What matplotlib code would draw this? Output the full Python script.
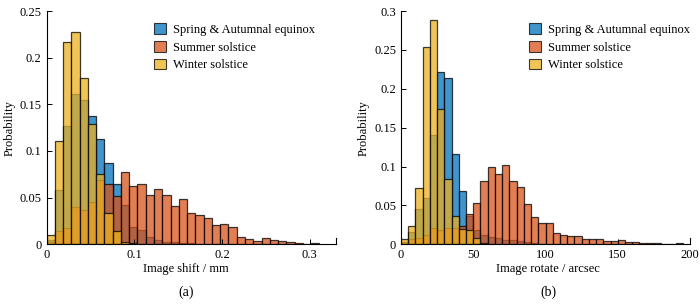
import numpy as np
import matplotlib
matplotlib.use("Agg")
import matplotlib.pyplot as plt
from matplotlib.patches import Patch
from matplotlib.ticker import FuncFormatter

# ---------------- data ----------------
series_names = ["Spring & Autumnal equinox", "Summer solstice", "Winter solstice"]

# panel (a): image shift / mm
shift_bin_width = 0.33 / 35
shift_spring = [0.005, 0.058, 0.127, 0.161, 0.155, 0.138, 0.113, 0.087, 0.065, 0.042,
                0.019, 0.015, 0.0075, 0.0046, 0.003, 0.002, 0.001, 0.001]
shift_summer = [0.003, 0.014, 0.018, 0.040, 0.037, 0.045, 0.069, 0.065, 0.052, 0.078,
                0.063, 0.065, 0.053, 0.059, 0.053, 0.041, 0.0486, 0.034, 0.0314, 0.0286,
                0.021, 0.0218, 0.019, 0.0079, 0.0054, 0.004, 0.007, 0.0043, 0.0032, 0.0029,
                0.0018, 0.0005, 0.0012]
shift_winter = [0.010, 0.111, 0.217, 0.228, 0.178, 0.129, 0.075, 0.034, 0.014, 0.003, 0.001]

# panel (b): image rotate / arcsec
rot_bin_width = 5.0
rot_spring = [0.002, 0.016, 0.046, 0.060, 0.141, 0.222, 0.214, 0.116, 0.068, 0.036,
              0.018, 0.012, 0.010, 0.008, 0.006, 0.005, 0.004, 0.003, 0.002, 0.001]
rot_summer = [0.003, 0.007, 0.008, 0.012, 0.021, 0.019, 0.021, 0.021, 0.024, 0.039,
              0.053, 0.082, 0.099, 0.091, 0.102, 0.081, 0.074, 0.052, 0.0356, 0.027,
              0.027, 0.014, 0.012, 0.0107, 0.0107, 0.0064, 0.0064, 0.0073, 0.0047, 0.0043,
              0.005, 0.0034, 0.003, 0.0017, 0.0017, 0.0015, 0.0009, 0.0009, 0.0015]
rot_winter = [0.0064, 0.024, 0.072, 0.254, 0.289, 0.174, 0.084, 0.037, 0.020, 0.019,
              0.008, 0.002]

shift_xticks = [0, 0.1, 0.2, 0.3]
shift_yticks = [0, 0.05, 0.1, 0.15, 0.2, 0.25]
rot_xticks = [0, 50, 100, 150, 200]
rot_yticks = [0, 0.05, 0.1, 0.15, 0.2, 0.25, 0.3]

# ---------------- style ----------------
colors = ["#0072BD", "#D95319", "#EDB120"]
alpha = 0.75
FONT = "Liberation Serif"
FS = 9
plt.rcParams["font.family"] = [FONT, "DejaVu Serif"]
plt.rcParams["font.size"] = FS

fig = plt.figure(figsize=(7.0, 3.06), dpi=100)
W, H = 700.0, 306.0

def axes_px(x0, x1, ytop, ybot):
    return fig.add_axes([x0 / W, (H - ybot) / H, (x1 - x0) / W, (ybot - ytop) / H])

ax1 = axes_px(46.5, 336, 11, 244.3)
ax2 = axes_px(401, 690, 11, 244.3)

fmt = FuncFormatter(lambda v, p: "%g" % round(v, 4))

def draw(ax, w, data, xlim, ylim, xticks, yticks, legx):
    for vals, c, name in zip(data, colors, series_names):
        edges = np.arange(len(vals)) * w
        ax.bar(edges, vals, width=w, align="edge", color=c, alpha=alpha,
               edgecolor="black", linewidth=0.9, label=name)
    ax.set_xlim(*xlim)
    ax.set_ylim(*ylim)
    ax.set_xticks(xticks)
    ax.set_yticks(yticks)
    ax.xaxis.set_major_formatter(fmt)
    ax.yaxis.set_major_formatter(fmt)
    ax.tick_params(direction="in", length=3.5, width=0.7, labelsize=FS, pad=3.5)
    for s in ["top", "right"]:
        ax.spines[s].set_visible(False)
    for s in ["left", "bottom"]:
        ax.spines[s].set_linewidth(0.8)
    ax.plot([1, 1], [0, 0.028], transform=ax.transAxes, color="black", lw=0.8,
            clip_on=False)
    ax.set_ylabel("Probability", fontsize=FS, labelpad=3)
    handles = [Patch(facecolor=c, edgecolor="black", alpha=alpha, linewidth=0.8)
               for c in colors]
    ax.legend(handles, series_names, loc="upper left", bbox_to_anchor=(legx, 0.948),
              frameon=False, fontsize=FS, handlelength=0.95, handleheight=0.95,
              handletextpad=0.55, labelspacing=0.4, borderpad=0, borderaxespad=0)

draw(ax1, shift_bin_width, [shift_spring, shift_summer, shift_winter],
     (0, 0.33), (0, 0.25), shift_xticks, shift_yticks, 0.371)
draw(ax2, rot_bin_width, [rot_spring, rot_summer, rot_winter],
     (0, 200), (0, 0.3), rot_xticks, rot_yticks, 0.443)

fig.text(186 / W, 1 - 269 / H, "Image shift / mm", ha="center", va="center", fontsize=FS)
fig.text(548 / W, 1 - 269 / H, "Image rotate / arcsec", ha="center", va="center", fontsize=FS)
fig.text(186 / W, 1 - 292 / H, "(a)", ha="center", va="center", fontsize=FS + 1)
fig.text(548 / W, 1 - 292 / H, "(b)", ha="center", va="center", fontsize=FS + 1)

fig.savefig("out.png", dpi=100)
